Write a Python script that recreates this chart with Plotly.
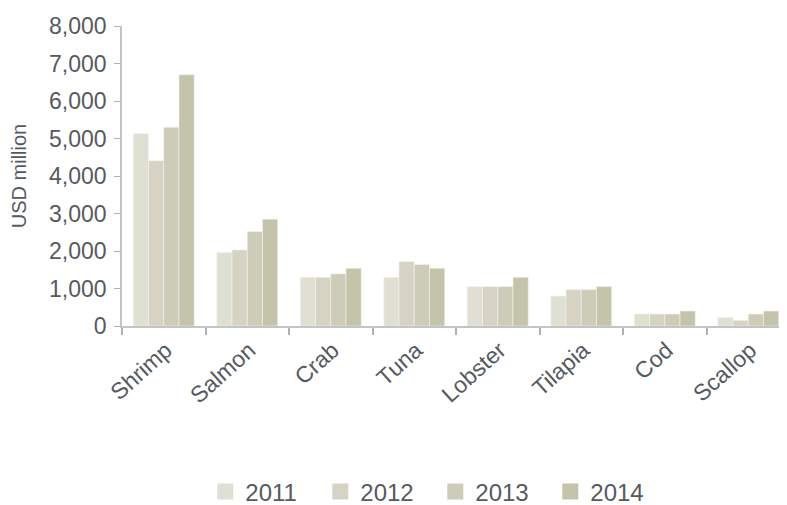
import plotly.graph_objects as go

categories = ["Shrimp", "Salmon", "Crab", "Tuna", "Lobster", "Tilapia", "Cod", "Scallop"]
years = ["2011", "2012", "2013", "2014"]
v2011 = [5130, 1960, 1300, 1300, 1050, 800, 320, 230]
v2012 = [4410, 2030, 1300, 1720, 1050, 970, 320, 150]
v2013 = [5300, 2520, 1390, 1640, 1050, 970, 320, 320]
v2014 = [6700, 2850, 1540, 1540, 1300, 1050, 400, 400]
series = [v2011, v2012, v2013, v2014]
colors = ["#e0dfd3", "#d6d3c4", "#cdccb8", "#c4c4aa"]

FONT = "Liberation Sans, Arial, sans-serif"
TXT = "#555a5f"

fig = go.Figure()
for yr, vals, c in zip(years, series, colors):
    fig.add_trace(go.Bar(x=categories, y=vals, name=yr, marker=dict(color=c, line=dict(width=0.6, color="#f4f4ee")),
                         showlegend=False))
for yr, c in zip(years, colors):
    fig.add_trace(go.Scatter(x=[None], y=[None], mode="markers", name=yr,
                             marker=dict(symbol="square", size=20, color=c)))

fig.update_layout(
    width=787, height=505,
    margin=dict(l=114, r=5, t=18, b=187, autoexpand=False),
    paper_bgcolor="white", plot_bgcolor="white",
    barmode="group", bargap=0.27, bargroupgap=0,
    font=dict(family=FONT, color=TXT),
    legend=dict(orientation="h", x=0.469, xanchor="center", y=-0.553, yanchor="middle",
                font=dict(size=24, color=TXT), entrywidth=70, entrywidthmode="pixels",
                itemsizing="trace"),
    xaxis=dict(
        type="category", showline=True, linecolor="#c4c4c4", linewidth=1.5,
        ticks="outside", tickson="boundaries", ticklen=7, tickcolor="#b0b0b0", tickwidth=1.5,
        tickangle=-42, tickfont=dict(size=23, color=TXT), showgrid=False, zeroline=False,
        ticklabelshift=2, automargin=False,
    ),
    yaxis=dict(
        range=[0, 8000], tickvals=[0, 1000, 2000, 3000, 4000, 5000, 6000, 7000, 8000],
        tickformat=",", showline=True, linecolor="#c4c4c4", linewidth=1.5,
        ticks="outside", ticklen=6, tickcolor="#b0b0b0", tickfont=dict(size=23, color=TXT),
        showgrid=False, zeroline=False, automargin=False, ticklabelstandoff=3,
        title=dict(text="USD million", font=dict(size=20, color=TXT), standoff=22),
    ),
)

fig.write_html("out.html")
